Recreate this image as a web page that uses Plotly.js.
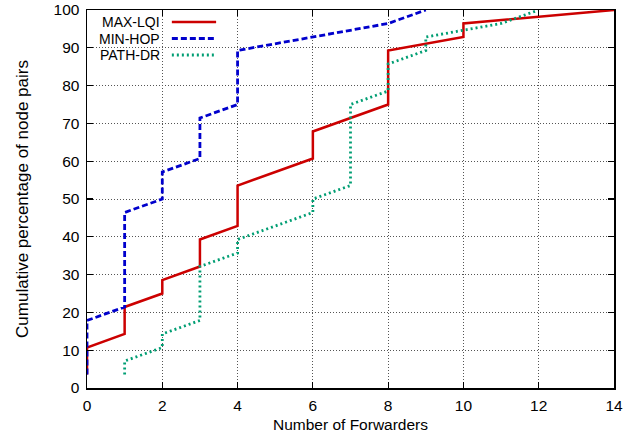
<!DOCTYPE html>
<html>
<head>
<meta charset="utf-8">
<script src="https://cdn.plot.ly/plotly-3.0.1.min.js"></script>
<style>html,body{margin:0;padding:0;background:#fff;}#chart{width:639px;height:443px;}</style>
</head>
<body>
<div id="chart"></div>
<script>
// Data (cumulative percentage of node pairs vs number of forwarders)
var seriesNames = ["MAX-LQI", "MIN-HOP", "PATH-DR"];

var maxLqiX = [0, 0, 1, 1, 2, 2, 3, 3, 4, 4, 6, 6, 8, 8, 10, 10, 14];
var maxLqiY = [3.57, 10.71, 14.29, 21.43, 25.0, 28.57, 32.14, 39.29, 42.86, 53.57, 60.71, 67.86, 75.0, 89.29, 92.86, 96.43, 100];

var minHopX = [0, 0, 1, 1, 2, 2, 3, 3, 4, 4, 8, 9];
var minHopY = [3.57, 17.86, 21.43, 46.43, 50.0, 57.14, 60.71, 71.43, 75.0, 89.29, 96.43, 100];

var pathDrX = [1, 1, 2, 2, 3, 3, 4, 4, 6, 6, 7, 7, 8, 8, 9, 9, 11, 12];
var pathDrY = [3.57, 7.14, 10.71, 14.29, 17.86, 32.14, 35.71, 39.29, 46.43, 50.0, 53.57, 75.0, 78.57, 85.71, 89.29, 92.86, 96.43, 100];

var xTicks = [0, 2, 4, 6, 8, 10, 12, 14];
var yTicks = [0, 10, 20, 30, 40, 50, 60, 70, 80, 90, 100];

var colors = ["#cc0000", "#0000cc", "#009e73"];
var dashes = ["solid", "6px,3px", "2px,3px"];
var widths = [2.5, 2.8, 2.8];

var font = "Liberation Sans, Arial, Helvetica, sans-serif";

var traces = [
  {x: maxLqiX, y: maxLqiY},
  {x: minHopX, y: minHopY},
  {x: pathDrX, y: pathDrY}
].map(function (t, i) {
  return {
    x: t.x, y: t.y, type: "scatter", mode: "lines", name: seriesNames[i],
    line: {color: colors[i], width: widths[i], dash: dashes[i]},
    showlegend: false, hoverinfo: "skip"
  };
});

// gnuplot-style key: text right-aligned, line sample on the right
var keyRowsY = [0.968, 0.9246, 0.881];
var annotations = seriesNames.map(function (n, i) {
  return {
    text: n, xref: "paper", yref: "paper", x: 0.140, y: keyRowsY[i],
    xanchor: "right", yanchor: "middle", showarrow: false, borderpad: 0,
    font: {family: font, size: 14, color: "#000"}
  };
});
var shapes = [{
  type: "rect", xref: "paper", yref: "paper", x0: 0.002, x1: 0.139, y0: 0.862, y1: 0.997,
  fillcolor: "#fff", line: {width: 0}, layer: "between"
}];
seriesNames.forEach(function (n, i) {
  shapes.push({
    type: "line", xref: "paper", yref: "paper", x0: 0.161, x1: 0.245,
    y0: keyRowsY[i], y1: keyRowsY[i],
    line: {color: colors[i], width: widths[i], dash: dashes[i]}, layer: "above"
  });
});

var axisCommon = {
  showline: true, linecolor: "#000", linewidth: 1.5, mirror: "ticks",
  ticks: "inside", ticklen: 6, tickwidth: 1.2, tickcolor: "#000",
  showgrid: true, gridcolor: "#555", griddash: "1px,2px", gridwidth: 1,
  zeroline: false, tickfont: {family: font, size: 15.5, color: "#000"}
};

var layout = {
  width: 639, height: 443,
  margin: {l: 87, r: 25, t: 10, b: 55},
  paper_bgcolor: "#fff", plot_bgcolor: "#fff",
  font: {family: font, color: "#000"},
  xaxis: Object.assign({}, axisCommon, {
    range: [0, 14], tickmode: "array", tickvals: xTicks, ticktext: xTicks.map(String),
    ticklabelstandoff: 3,
    title: {text: "Number of Forwarders", font: {family: font, size: 15.5, color: "#000"}, standoff: 6}
  }),
  yaxis: Object.assign({}, axisCommon, {
    range: [0, 100], tickmode: "array", tickvals: yTicks, ticktext: yTicks.map(String),
    ticklabelstandoff: 3,
    title: {text: "Cumulative percentage of node pairs", font: {family: font, size: 17, color: "#000"}, standoff: 20}
  }),
  annotations: annotations,
  shapes: shapes
};

Plotly.newPlot("chart", traces, layout, {staticPlot: true, displayModeBar: false});
</script>
</body>
</html>
